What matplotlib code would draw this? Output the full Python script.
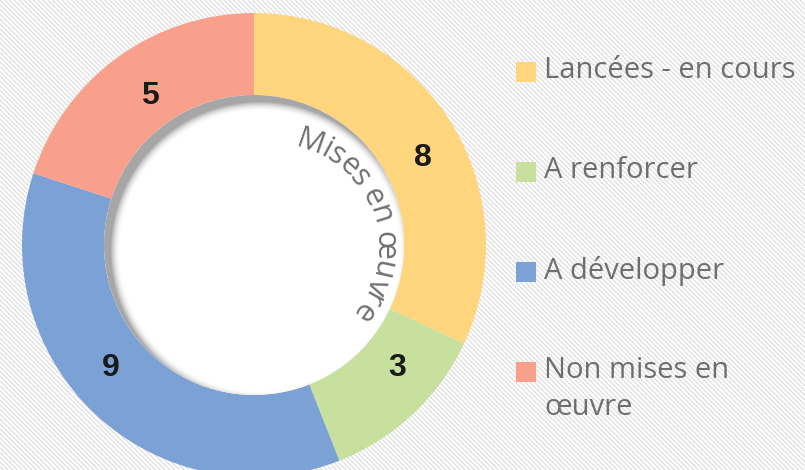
import matplotlib
matplotlib.use("Agg")
import matplotlib.pyplot as plt
from matplotlib.patches import Rectangle, Circle
import numpy as np

# data
categories = ["Lancées - en cours", "A renforcer", "A développer", "Non mises en\nœuvre"]
values = [8, 3, 9, 5]
colors = ["#FFD57E", "#C7E09E", "#7BA1D5", "#F8A08B"]
center_title = "Mises en œuvre"

# label nudges (deg, radius) to sit where the original puts them
lab_shift = [-5, 6, -6, -1]
lab_rad = [190, 189, 189, 182]

W, H = 805, 470
cx, cy = 254, 225
r_out, r_in = 232, 150

plt.rcParams["hatch.linewidth"] = 0.7

fig = plt.figure(figsize=(W / 100, H / 100), dpi=100)
ax = fig.add_axes([0, 0, 1, 1])

# striped background
bg = Rectangle((0, 0), W, H, facecolor="white", edgecolor="#D6D6D6",
               hatch="\\" * 7, lw=0, zorder=0)
ax.add_patch(bg)

wedges, _ = ax.pie(
    values, colors=colors, startangle=90, counterclock=False,
    radius=r_out, center=(cx, cy),
    wedgeprops=dict(width=r_out - r_in, edgecolor="none"))
for w, v, sh, rr in zip(wedges, values, lab_shift, lab_rad):
    w.set_zorder(2)
    mid = np.radians((w.theta1 + w.theta2) / 2 + sh)
    ax.text(cx + rr * np.cos(mid), cy + rr * np.sin(mid), str(v),
            ha="center", va="center", fontsize=23, fontweight="bold",
            color="#1A1A1A", family="Liberation Sans", zorder=6)

# white hole with inner shadow
hole = Circle((cx, cy), r_in, facecolor="white", edgecolor="none", zorder=3)
ax.add_patch(hole)
xs = np.arange(cx - r_in, cx + r_in + 1)
ys = np.arange(cy - r_in, cy + r_in + 1)
X, Y = np.meshgrid(xs, ys)
d = np.hypot(X - (cx + 6), Y - (cy - 6))
blur = 10.0
a = np.clip((d - (r_in - blur)) / blur, 0, 1) ** 2 * 0.5
img = np.zeros(X.shape + (4,))
img[..., :3] = 0.3
img[..., 3] = a
im = ax.imshow(img, extent=(xs[0], xs[-1], ys[0], ys[-1]), origin="lower",
               zorder=4, interpolation="bilinear")
im.set_clip_path(hole)

ax.set_xlim(0, W)
ax.set_ylim(0, H)
ax.set_aspect("equal")
ax.axis("off")

# curved title along the hole
renderer = fig.canvas.get_renderer()
tfont = dict(fontsize=22, color="#707070", family="Open Sans")


def text_w(s):
    t = ax.text(0, 0, s, **tfont)
    w = t.get_window_extent(renderer).width
    t.remove()
    return w


bar_w = text_w("|")
edges = [text_w(center_title[:i] + "|") - bar_w for i in range(len(center_title) + 1)]
total_w = edges[-1]
tcx, tcy, t_r = 275, 224, 101
step_r = t_r + 7  # spacing measured at mid x-height
mid_ang = np.radians(18.5)
for i, ch in enumerate(center_title):
    pos = (edges[i] + edges[i + 1]) / 2 - total_w / 2
    ang = mid_ang - pos / step_r
    x = tcx + t_r * np.cos(ang)
    y = tcy + t_r * np.sin(ang)
    ax.text(x, y, ch, rotation=np.degrees(ang) - 90, rotation_mode="anchor",
            ha="center", va="baseline", zorder=7, **tfont)

# legend
for i, (lab, col) in enumerate(zip(categories, colors)):
    yc = H - (72 + 100 * i)
    ax.add_patch(Rectangle((516, yc - 10), 20, 20, facecolor=col,
                           edgecolor="none", zorder=5))
    ax.text(544, yc + 16, lab, ha="left", va="top", fontsize=21,
            color="#6E6E6E", family="Open Sans", linespacing=1.35, zorder=5)

fig.savefig("out.png", dpi=100)
